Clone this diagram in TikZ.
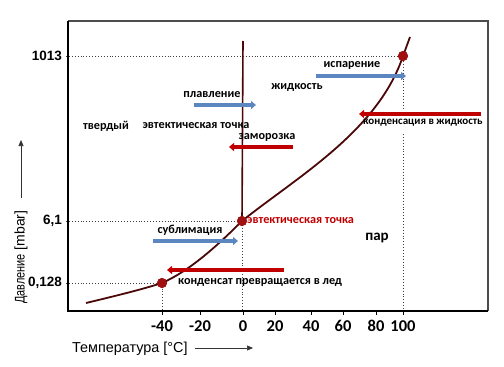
\documentclass[tikz,border=0pt]{standalone}
\usepackage{fontspec}
\setmainfont{Carlito}
\newfontfamily\arial{Liberation Sans}
\usetikzlibrary{arrows.meta}
\definecolor{bluearr}{HTML}{5B86C0}
\definecolor{redarr}{HTML}{C00000}
\definecolor{dotred}{HTML}{A01010}
\definecolor{curvecol}{HTML}{4A0808}
\begin{document}
\begin{tikzpicture}[x=1pt,y=-1pt,
  lbl/.style={font=\fontsize{12.2}{14}\selectfont\bfseries, inner sep=0pt},
  ticklbl/.style={font=\fontsize{16.5}{18}\selectfont\bfseries, inner sep=0pt},
  ylbl/.style={font=\arial\fontsize{13.5}{15}\selectfont\bfseries, inner sep=0pt, anchor=east},
  bluearrow/.style={draw=bluearr, line width=4pt, -{Triangle[width=8pt,length=5pt]}},
  redarrow/.style={draw=redarr, line width=4pt, -{Triangle[width=8pt,length=5pt]}},
  guide/.style={draw=black!75, dotted, line width=0.9pt},
  pt/.style={circle, fill=dotred, inner sep=0pt, minimum size=10pt},
  tick/.style={draw=black, line width=0.8pt}
]
\useasboundingbox (0,0) rectangle (504,367);
\fill[white] (0,0) rectangle (504,367);

% frame
\coordinate (tl) at (68,21);
\coordinate (tr) at (488,21);
\coordinate (bl) at (68,311);
\coordinate (br) at (488,311);
\draw[black!70, line width=1.5pt] (tl) -- (tr) -- (br);
\draw[black, line width=2pt] (tl) -- (bl) -- (br);

% guide lines
\coordinate (g1013) at (66,56);
\coordinate (g61) at (66,221);
\coordinate (g0128) at (66,283);
\coordinate (b40) at (162,311);
\coordinate (b0) at (242,311);
\coordinate (b100) at (403,311);
\coordinate (gapA) at (403,109);
\coordinate (gapB) at (403,134);
\node[pt] (p100) at (403,56) {};
\node[pt] (pe) at (242,221) {};
\node[pt] (p40) at (162,283) {};
\draw[guide] (g1013) -- (p100.center) -- (gapA);
\draw[guide] (gapB) -- (b100);
\draw[guide] (g61) -- (pe.center) -- (b0);
\draw[guide] (g0128) -- (p40.center) -- (b40);

% melting line
\coordinate (mtop) at (243,41);
\draw[curvecol, line width=1.6pt] (mtop) -- (pe.center);

% curve
\coordinate (cstart) at (86,303);
\coordinate (cend) at (410,37);
\draw[curvecol, line width=1.8pt] (cstart) .. controls (115,296) and (140,290) .. (p40.center)
  .. controls (189,271) and (215,248) .. (pe.center)
  .. controls (297,177) and (378,131) .. (p100.center) -- (cend);
\node[pt] at (p100) {};
\node[pt] at (pe) {};
\node[pt] at (p40) {};

% y labels
\node[ylbl] (y1013) at (62,56) {1013};
\node[ylbl] (y61) at (62,221) {6,1};
\node[ylbl] (y0128) at (62,283) {0,128};

% x tick labels
\foreach \xx/\t in {162/-40,200/-20,243/0,275/20,311/40,343/60,376/80,403/100}{
  \draw[tick] (\xx,311) -- (\xx,315);
  \node[ticklbl] at (\xx,326) {\t};
}

% axis titles
\node[font=\arial\fontsize{14.4}{16}\selectfont, inner sep=0pt, anchor=west] (xt) at (72,349) {Температура [°C]};
\coordinate (xa1) at (195,348);
\coordinate (xa2) at (253,348);
\draw[black!80, line width=0.7pt, -{Triangle[width=5pt,length=6pt]}] (xa1) -- (xa2);

\node[font=\arial\fontsize{14}{16}\selectfont, inner sep=0pt, rotate=90, anchor=west] (yt) at (21,304)
  {\scalebox{0.78}[1]{Давление}\hspace{4pt}[mbar]};
\coordinate (ya1) at (21,198);
\coordinate (ya2) at (21,140);
\draw[black!80, line width=0.7pt, -{Triangle[width=5pt,length=6pt]}] (ya1) -- (ya2);

% labels
\node[lbl] (plav) at (212,95) {плавление};
\coordinate (plavA) at (194,105);
\coordinate (plavB) at (256,105);
\draw[bluearrow] (plavA) -- (plavB);

\node[lbl] (tverd) at (106,126) {твердый};
\node[lbl] (evt1) at (196,126) {эвтектическая точка};
\node[lbl] (zam) at (267,137) {заморозка};
\coordinate (zamA) at (293,147);
\coordinate (zamB) at (229,147);
\draw[redarrow] (zamA) -- (zamB);

\node[lbl] (isp) at (352,65) {испарение};
\coordinate (ispA) at (316,76);
\coordinate (ispB) at (406,76);
\draw[bluearrow] (ispA) -- (ispB);
\node[lbl] (zhid) at (297,87) {жидкость};

\coordinate (konA) at (481,114);
\coordinate (konB) at (359,114);
\draw[redarrow] (konA) -- (konB);
\node[lbl, font=\fontsize{11}{13}\selectfont\bfseries, anchor=west] (kon) at (363,123) {конденсация в жидкость};

\node[lbl, text=redarr, anchor=west] (evt2) at (247,221) {эвтектическая точка};
\node[lbl, font=\fontsize{15}{17}\selectfont\bfseries] (par) at (377,238) {пар};

\node[lbl] (sub) at (190,230) {сублимация};
\coordinate (subA) at (153,241);
\coordinate (subB) at (238,241);
\draw[bluearrow] (subA) -- (subB);

\coordinate (klA) at (284,270);
\coordinate (klB) at (167,270);
\draw[redarrow] (klA) -- (klB);
\node[lbl, anchor=west] (kl) at (178,282) {конденсат превращается в лед};
\end{tikzpicture}
\end{document}
